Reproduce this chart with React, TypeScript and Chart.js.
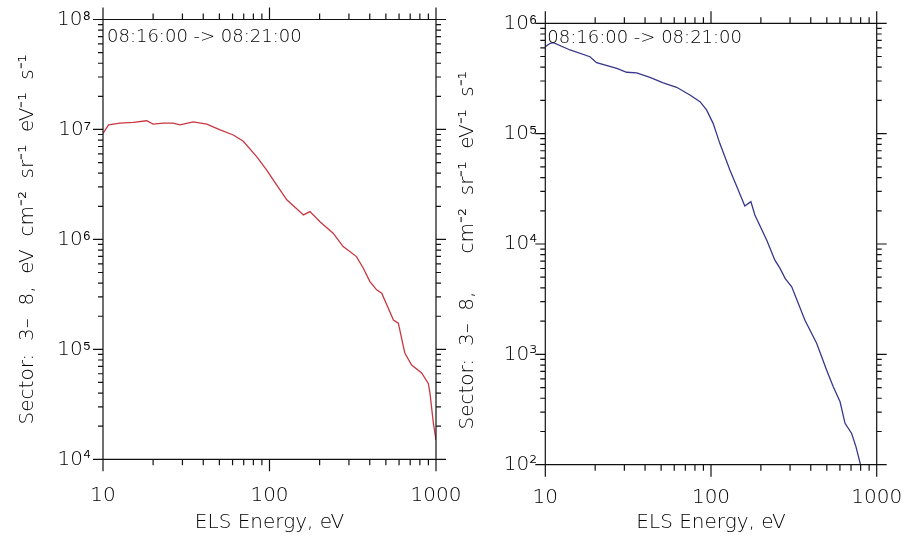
import React, { useEffect, useRef } from "react";
import { Chart, registerables } from "chart.js";

Chart.register(...registerables);

// ---------------- data ----------------
const RED_ENERGY = [10, 10.8, 12.6, 15.2, 18.3, 20, 23, 26.4, 29, 34.8, 42, 50.5, 60.6, 69.6, 83.7, 96, 108, 127, 160, 175, 201, 241, 277, 333, 366, 401, 440, 472, 517, 555, 594, 637, 651, 714, 820, 899, 920, 964, 1000];
const RED_FLUX = [9.2e6, 1.1e7, 1.14e7, 1.16e7, 1.2e7, 1.12e7, 1.14e7, 1.14e7, 1.1e7, 1.17e7, 1.12e7, 9.9e6, 8.9e6, 7.8e6, 5.66e6, 4.29e6, 3.28e6, 2.29e6, 1.67e6, 1.79e6, 1.45e6, 1.14e6, 8.6e5, 6.98e5, 5.47e5, 4.13e5, 3.48e5, 3.24e5, 2.37e5, 1.85e5, 1.73e5, 1.06e5, 9.2e4, 7.2e4, 6.1e4, 4.9e4, 4.0e4, 2.14e4, 1.5e4];

const BLUE_ENERGY = [10, 10.7, 11.2, 14.1, 18.6, 20.4, 27, 31, 35.6, 42.8, 51.5, 62, 74.6, 85.8, 94, 103, 113, 130, 146, 160, 174, 184, 217, 243, 261, 280, 307, 369, 434, 499, 547, 601, 644, 706, 750, 800, 850];
const BLUE_FLUX = [6.14e5, 6.59e5, 6.67e5, 5.73e5, 4.98e5, 4.4e5, 3.91e5, 3.6e5, 3.56e5, 3.24e5, 2.89e5, 2.63e5, 2.24e5, 1.95e5, 1.64e5, 1.24e5, 8.17e4, 4.68e4, 3.08e4, 2.21e4, 2.42e4, 1.83e4, 1.08e4, 7.14e3, 6.01e3, 4.88e3, 4.09e3, 2.04e3, 1.26e3, 719, 508, 372, 237, 192, 145, 99, 60];

const X_TICKS = [10, 100, 1000];
const LEFT_Y_TICKS = [1e4, 1e5, 1e6, 1e7, 1e8];
const RIGHT_Y_TICKS = [1e2, 1e3, 1e4, 1e5, 1e6];

const TIME_LABEL = "08:16:00 -> 08:21:00";
const X_TITLE = "ELS Energy, eV";
const LEFT_Y_TITLE = "Sector:  3–  8,  eV  cm⁻²  sr⁻¹  eV⁻¹  s⁻¹";
const RIGHT_Y_TITLE = "Sector:  3–  8,      cm⁻²  sr⁻¹  eV⁻¹  s⁻¹  ";

// ---------------- styling ----------------
const FONT_FAMILY = "'DejaVu Sans', sans-serif";
const FONT_WEIGHT = "200";
const TEXT_COLOR = "#000";
const FRAME_COLOR = "#111";
const RED = "rgb(200,55,65)";
const BLUE = "rgb(55,55,140)";

const SUP: Record<string, string> = {
  "0": "⁰", "1": "¹", "2": "²", "3": "³", "4": "⁴",
  "5": "⁵", "6": "⁶", "7": "⁷", "8": "⁸", "9": "⁹", "-": "⁻",
};
const sup = (s: string) => s.split("").map((c) => SUP[c] ?? c).join("");

function logValues(min: number, max: number): number[] {
  const out: number[] = [];
  const e0 = Math.floor(Math.log10(min));
  const e1 = Math.ceil(Math.log10(max));
  for (let e = e0; e <= e1; e++) {
    for (let m = 1; m <= 9; m++) {
      const v = m * Math.pow(10, e);
      if (v >= min * 0.999999 && v <= max * 1.000001) out.push(v);
    }
  }
  return out;
}
const isDecade = (v: number) => Math.abs(Math.log10(v) - Math.round(Math.log10(v))) < 1e-9;

const frameTicksPlugin = {
  id: "frameTicks",
  afterDatasetsDraw(chart: any, _args: any, opts: any) {
    const { ctx, chartArea: a, scales } = chart;
    const xs = scales.x;
    const ys = scales.y;
    ctx.save();
    ctx.strokeStyle = FRAME_COLOR;
    ctx.lineWidth = 1.2;
    ctx.beginPath();
    ctx.rect(a.left, a.top, a.right - a.left, a.bottom - a.top);
    for (const v of logValues(xs.min, xs.max)) {
      const px = xs.getPixelForValue(v);
      const len = isDecade(v) ? 12 : 6;
      ctx.moveTo(px, a.bottom);
      ctx.lineTo(px, a.bottom + len);
      ctx.moveTo(px, a.top);
      ctx.lineTo(px, a.top - len);
    }
    for (const v of logValues(ys.min, ys.max)) {
      const py = ys.getPixelForValue(v);
      const len = isDecade(v) ? 10 : 5;
      ctx.moveTo(a.left, py);
      ctx.lineTo(a.left - len, py);
      ctx.moveTo(a.right, py);
      ctx.lineTo(a.right + len, py);
    }
    ctx.stroke();
    ctx.fillStyle = TEXT_COLOR;
    ctx.font = `${FONT_WEIGHT} 18px ${FONT_FAMILY}`;
    ctx.textAlign = "left";
    ctx.textBaseline = "alphabetic";
    ctx.fillText(opts.label, a.left + opts.dx, a.top + opts.dy);
    ctx.restore();
  },
};

type Panel = {
  energy: number[];
  flux: number[];
  color: string;
  yTicks: number[];
  yTitle: string;
  pad: { top: number; right: number };
  yWidth: number;
  xHeight: number;
  yLabelPad: number;
  xLabelPad: number;
  labelDx: number;
  labelDy: number;
};

function makeConfig(p: Panel): any {
  const tickFont = { family: FONT_FAMILY, size: 20, weight: FONT_WEIGHT, lineHeight: 1.2 };
  const titleFont = { family: FONT_FAMILY, size: 20, weight: FONT_WEIGHT, lineHeight: 1.2 };
  return {
    type: "line",
    data: {
      datasets: [
        {
          data: p.energy.map((e, i) => ({ x: e, y: p.flux[i] })),
          borderColor: p.color,
          borderWidth: 1.3,
          pointRadius: 0,
          fill: false,
          tension: 0,
        },
      ],
    },
    options: {
      responsive: false,
      maintainAspectRatio: false,
      animation: false,
      layout: { padding: { left: 0, top: p.pad.top, right: p.pad.right, bottom: 0 } },
      plugins: {
        legend: { display: false },
        tooltip: { enabled: false },
        frameTicks: { label: TIME_LABEL, dx: p.labelDx, dy: p.labelDy },
      },
      scales: {
        x: {
          type: "logarithmic",
          position: "bottom",
          min: X_TICKS[0],
          max: X_TICKS[X_TICKS.length - 1],
          grid: { display: false, drawTicks: false },
          border: { display: false },
          afterBuildTicks: (s: any) => {
            s.ticks = X_TICKS.map((v) => ({ value: v }));
          },
          afterFit: (s: any) => {
            s.height = p.xHeight;
            s.paddingLeft = 0;
            s.paddingRight = 0;
          },
          ticks: {
            autoSkip: false,
            maxRotation: 0,
            padding: p.xLabelPad,
            color: TEXT_COLOR,
            font: tickFont,
            callback: (v: number) => String(v),
          },
          title: {
            display: true,
            text: X_TITLE,
            color: TEXT_COLOR,
            font: titleFont,
            padding: { top: 0, bottom: 2.5 },
          },
        },
        y: {
          type: "logarithmic",
          position: "left",
          min: p.yTicks[0],
          max: p.yTicks[p.yTicks.length - 1],
          grid: { display: false, drawTicks: false },
          border: { display: false },
          afterBuildTicks: (s: any) => {
            s.ticks = p.yTicks.map((v) => ({ value: v }));
          },
          afterFit: (s: any) => {
            s.width = p.yWidth;
            s.paddingTop = 0;
            s.paddingBottom = 0;
          },
          ticks: {
            autoSkip: false,
            padding: p.yLabelPad,
            color: TEXT_COLOR,
            font: tickFont,
            callback: (v: number) => "10" + sup(String(Math.round(Math.log10(v)))),
          },
          title: {
            display: true,
            text: p.yTitle,
            color: TEXT_COLOR,
            font: titleFont,
            padding: { top: 15.5, bottom: 0 },
          },
        },
      },
    },
    plugins: [frameTicksPlugin],
  };
}

const LEFT_PANEL: Panel = {
  energy: RED_ENERGY,
  flux: RED_FLUX,
  color: RED,
  yTicks: LEFT_Y_TICKS,
  yTitle: LEFT_Y_TITLE,
  pad: { top: 19.5, right: 480 - 436 },
  yWidth: 103,
  xHeight: 537 - 459.3,
  yLabelPad: 12,
  xLabelPad: 24,
  labelDx: 4,
  labelDy: 22,
};

const RIGHT_PANEL: Panel = {
  energy: BLUE_ENERGY,
  flux: BLUE_FLUX,
  color: BLUE,
  yTicks: RIGHT_Y_TICKS,
  yTitle: RIGHT_Y_TITLE,
  pad: { top: 23.3, right: 910 - 876.7 },
  yWidth: 545.3 - 440,
  xHeight: 537 - 464.7,
  yLabelPad: 8,
  xLabelPad: 21.5,
  labelDx: 2,
  labelDy: 20,
};

export default function App() {
  const leftRef = useRef<HTMLCanvasElement | null>(null);
  const rightRef = useRef<HTMLCanvasElement | null>(null);

  useEffect(() => {
    const charts: Chart[] = [];
    if (leftRef.current) charts.push(new Chart(leftRef.current, makeConfig(LEFT_PANEL)));
    if (rightRef.current) charts.push(new Chart(rightRef.current, makeConfig(RIGHT_PANEL)));
    return () => charts.forEach((c) => c.destroy());
  }, []);

  return (
    <div
      style={{
        position: "absolute",
        left: 0,
        top: 0,
        width: 910,
        height: 537,
        background: "#fff",
        overflow: "hidden",
      }}
    >
      <canvas
        ref={leftRef}
        width={480}
        height={537}
        style={{ position: "absolute", left: 0, top: 0, width: 480, height: 537 }}
      />
      <canvas
        ref={rightRef}
        width={470}
        height={537}
        style={{ position: "absolute", left: 440, top: 0, width: 470, height: 537 }}
      />
    </div>
  );
}
